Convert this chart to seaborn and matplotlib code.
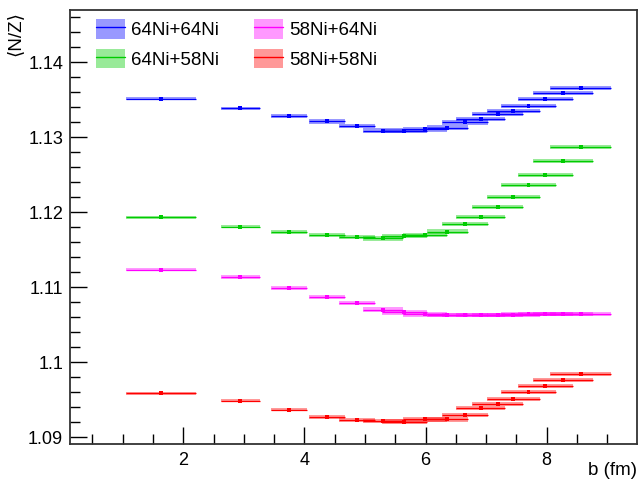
import numpy as np
import pandas as pd
import matplotlib
matplotlib.use("Agg")
import matplotlib.pyplot as plt
from matplotlib.patches import Patch
from matplotlib.lines import Line2D
from matplotlib.ticker import FixedLocator, MultipleLocator, FuncFormatter
import seaborn as sns

# ---- data ----
b_center = [1.63, 2.94, 3.75, 4.37, 4.865, 5.30, 5.65, 5.99, 6.36, 6.65,
            6.91, 7.19, 7.45, 7.70, 7.98, 8.27, 8.56]
b_halfwidth = [0.575, 0.325, 0.30, 0.30, 0.30, 0.33, 0.37, 0.36, 0.34, 0.385,
               0.40, 0.42, 0.44, 0.45, 0.46, 0.49, 0.50]

nz_64_64 = [1.13511, 1.13387, 1.13288, 1.13211, 1.13151, 1.13088, 1.13084, 1.13107,
            1.13128, 1.13200, 1.13240, 1.13307, 1.13347, 1.13421, 1.13507, 1.13595, 1.13653]
nz_64_58 = [1.11933, 1.11808, 1.11733, 1.11693, 1.11675, 1.11653, 1.11684, 1.11697,
            1.11741, 1.11844, 1.11937, 1.12067, 1.12208, 1.12360, 1.12497, 1.12680, 1.12867]
nz_58_64 = [1.11231, 1.11137, 1.10990, 1.10867, 1.10791, 1.10701, 1.10667, 1.10640,
            1.10631, 1.10631, 1.10630, 1.10630, 1.10635, 1.10640, 1.10644, 1.10648, 1.10644]
nz_58_58 = [1.09590, 1.09490, 1.09370, 1.09275, 1.09230, 1.09217, 1.09210, 1.09240,
            1.09240, 1.09297, 1.09387, 1.09444, 1.09507, 1.09600, 1.09684, 1.09764, 1.09840]
nz_err = [0.00020, 0.00022, 0.00025, 0.00028, 0.00028, 0.00032, 0.00032, 0.00032,
          0.00030, 0.00030, 0.00028, 0.00028, 0.00028, 0.00028, 0.00028, 0.00028, 0.00028]

systems = ["64Ni+64Ni", "64Ni+58Ni", "58Ni+64Ni", "58Ni+58Ni"]
colors = ["#0000ff", "#00cc00", "#ff00ff", "#ff0000"]
series = [nz_64_64, nz_64_58, nz_58_64, nz_58_58]

yticks = [1.09, 1.10, 1.11, 1.12, 1.13, 1.14]
xticks = [2, 4, 6, 8]

rows = []
for name, vals in zip(systems, series):
    for xc, hw, v, e in zip(b_center, b_halfwidth, vals, nz_err):
        rows.append(dict(system=name, b=xc, bw=hw, nz=v, err=e))
df = pd.DataFrame(rows)

# ---- style ----
sns.set_style("white")
plt.rcParams["font.family"] = ["Liberation Sans", "DejaVu Sans"]
plt.rcParams["font.size"] = 13
plt.rcParams["text.color"] = "black"
plt.rcParams["xtick.color"] = "black"
plt.rcParams["ytick.color"] = "black"

fig = plt.figure(figsize=(6.41, 4.83), dpi=100)
ax = fig.add_axes([70 / 641, 1 - 444 / 483, 567 / 641, 434 / 483])

palette = dict(zip(systems, colors))
for name in systems:
    d = df[df.system == name]
    c = palette[name]
    ax.bar(d.b, 2 * d.err, width=2 * d.bw, bottom=d.nz - d.err,
           color=c, alpha=0.4, linewidth=0, zorder=2)
    ax.hlines(d.nz, d.b - d.bw, d.b + d.bw, color=c, linewidth=0.9, zorder=3)

sns.scatterplot(data=df, x="b", y="nz", hue="system", palette=palette,
                marker="s", s=8, linewidth=0, legend=False, ax=ax, zorder=4)

ax.set_xlim(0.129, 9.492)
ax.set_ylim(1.08911, 1.14697)
ax.xaxis.set_major_locator(FixedLocator(xticks))
ax.xaxis.set_minor_locator(MultipleLocator(0.5))
ax.yaxis.set_major_locator(FixedLocator(yticks))
ax.yaxis.set_minor_locator(MultipleLocator(0.002))
ax.yaxis.set_major_formatter(FuncFormatter(lambda v, p: f"{v:g}"))
ax.xaxis.set_major_formatter(FuncFormatter(lambda v, p: f"{v:g}"))
ax.tick_params(which="both", direction="in", bottom=True, left=True,
               top=False, right=False, color="black", labelcolor="black",
               labelsize=13)
ax.tick_params(which="major", length=12, width=1.0, pad=6)
ax.tick_params(which="minor", length=7, width=1.0)
ax.tick_params(axis="y", which="major", pad=5)
for s in ax.spines.values():
    s.set_color("#333333")
    s.set_linewidth(1.3)
ax.set_xlabel("")
ax.set_ylabel("")

fig.text(637 / 641, 1 - 479 / 483, "b (fm)", ha="right", va="bottom",
         fontsize=13.5, color="black")
fig.text(15 / 641, 1 - 11 / 483, "\u27e8N/Z\u27e9", rotation=90, ha="center", va="top",
         fontsize=13.5, color="black", family=["Liberation Sans", "DejaVu Sans"])

handles = []
for c in colors:
    handles.append((Patch(facecolor=c, alpha=0.4, linewidth=0),
                    Line2D([], [], color=c, linewidth=1.0)))
leg = ax.legend(handles, systems, ncol=2, loc="upper left",
                bbox_to_anchor=(26 / 567, 1 - 9 / 434), frameon=False,
                fontsize=13.5, handlelength=1.55, handleheight=1.25,
                handletextpad=0.3, columnspacing=1.9, labelspacing=0.5,
                borderpad=0, borderaxespad=0, labelcolor="black")

fig.savefig("out.png", dpi=100)
